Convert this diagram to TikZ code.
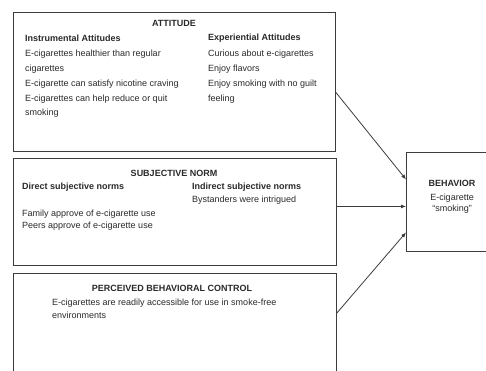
\documentclass[tikz,border=0pt]{standalone}
\usepackage{fontspec}
\setmainfont{Liberation Sans}
\usetikzlibrary{arrows.meta}
\definecolor{txt}{HTML}{2A2A2A}
\definecolor{ln}{HTML}{3C3C3C}
\tikzset{
  box/.style={draw=ln, line width=0.9pt, rectangle, inner sep=0pt, anchor=north west},
  lbl/.style={anchor=west, inner sep=0pt, text=txt, font=\fontsize{9}{14.8}\selectfont, align=left},
  ttl/.style={anchor=center, inner sep=0pt, text=txt, font=\fontsize{9}{14.5}\selectfont\bfseries},
  arr/.style={draw=ln, line width=0.8pt, -{Latex[length=5pt,width=4pt]}}
}
\begin{document}
\begin{tikzpicture}[x=1pt,y=-1pt]
\useasboundingbox[fill=white] (0,0) rectangle (486,371);
% boxes
\node[box, minimum width=322pt, minimum height=139pt] (att) at (13,12) {};
\node[box, minimum width=323pt, minimum height=107pt] (sn) at (13,158) {};
\node[box, minimum width=323pt, minimum height=120pt] (pbc) at (13,273) {};
\node[box, minimum width=90pt, minimum height=99pt] (beh) at (406,152) {};
% attitude
\node[ttl] (attT) at (174,23) {ATTITUDE};
\node[lbl, font=\fontsize{9}{14.5}\selectfont\bfseries] (ins) at (25,38.5) {Instrumental Attitudes};
\node[lbl, anchor=north west] (insL) at (25,50) {E-cigarettes healthier than regular\\cigarettes\\E-cigarette can satisfy nicotine craving\\E-cigarettes can help reduce or quit\\smoking};
\node[lbl, font=\fontsize{9}{14.5}\selectfont\bfseries] (exp) at (208,38.5) {Experiential Attitudes};
\node[lbl, anchor=north west] (expL) at (208,50) {Curious about e-cigarettes\\Enjoy flavors\\Enjoy smoking with no guilt\\feeling};
% subjective norm
\node[ttl] (snT) at (174,173) {SUBJECTIVE NORM};
\node[lbl, font=\fontsize{9}{14.5}\selectfont\bfseries] (dir) at (22,187) {Direct subjective norms};
\node[lbl, font=\fontsize{9}{14.5}\selectfont\bfseries] (ind) at (192,187) {Indirect subjective norms};
\node[lbl] (bys) at (192,200) {Bystanders were intrigued};
\node[lbl, anchor=north west, font=\fontsize{9}{12.5}\selectfont] (dirL) at (22,209.5) {Family approve of e-cigarette use\\Peers approve of e-cigarette use};
% pbc
\node[ttl] (pbcT) at (172,288) {PERCEIVED BEHAVIORAL CONTROL};
\node[lbl, anchor=north west, font=\fontsize{9}{13}\selectfont] (pbcL) at (52,299) {E-cigarettes are readily accessible for use in smoke-free\\environments};
% behavior
\node[ttl] (behT) at (452,183) {BEHAVIOR};
\node[lbl, anchor=north, align=center, font=\fontsize{9}{11.5}\selectfont] (behL) at (452,193.5) {E-cigarette\\“smoking”};
% arrows
\coordinate (attout) at ([yshift=-10.5pt]att.east);
\coordinate (snout) at ([yshift=5.5pt]sn.east);
\coordinate (pbcout) at ([yshift=-40pt]pbc.north east);
\coordinate (behin1) at ([yshift=22.5pt]beh.west);
\coordinate (behin3) at ([yshift=-30.5pt]beh.west);
\draw[arr] (attout) -- (behin1);
\draw[arr] (snout) -- (beh.west |- snout);
\draw[arr] (pbcout) -- (behin3);
\end{tikzpicture}
\end{document}
